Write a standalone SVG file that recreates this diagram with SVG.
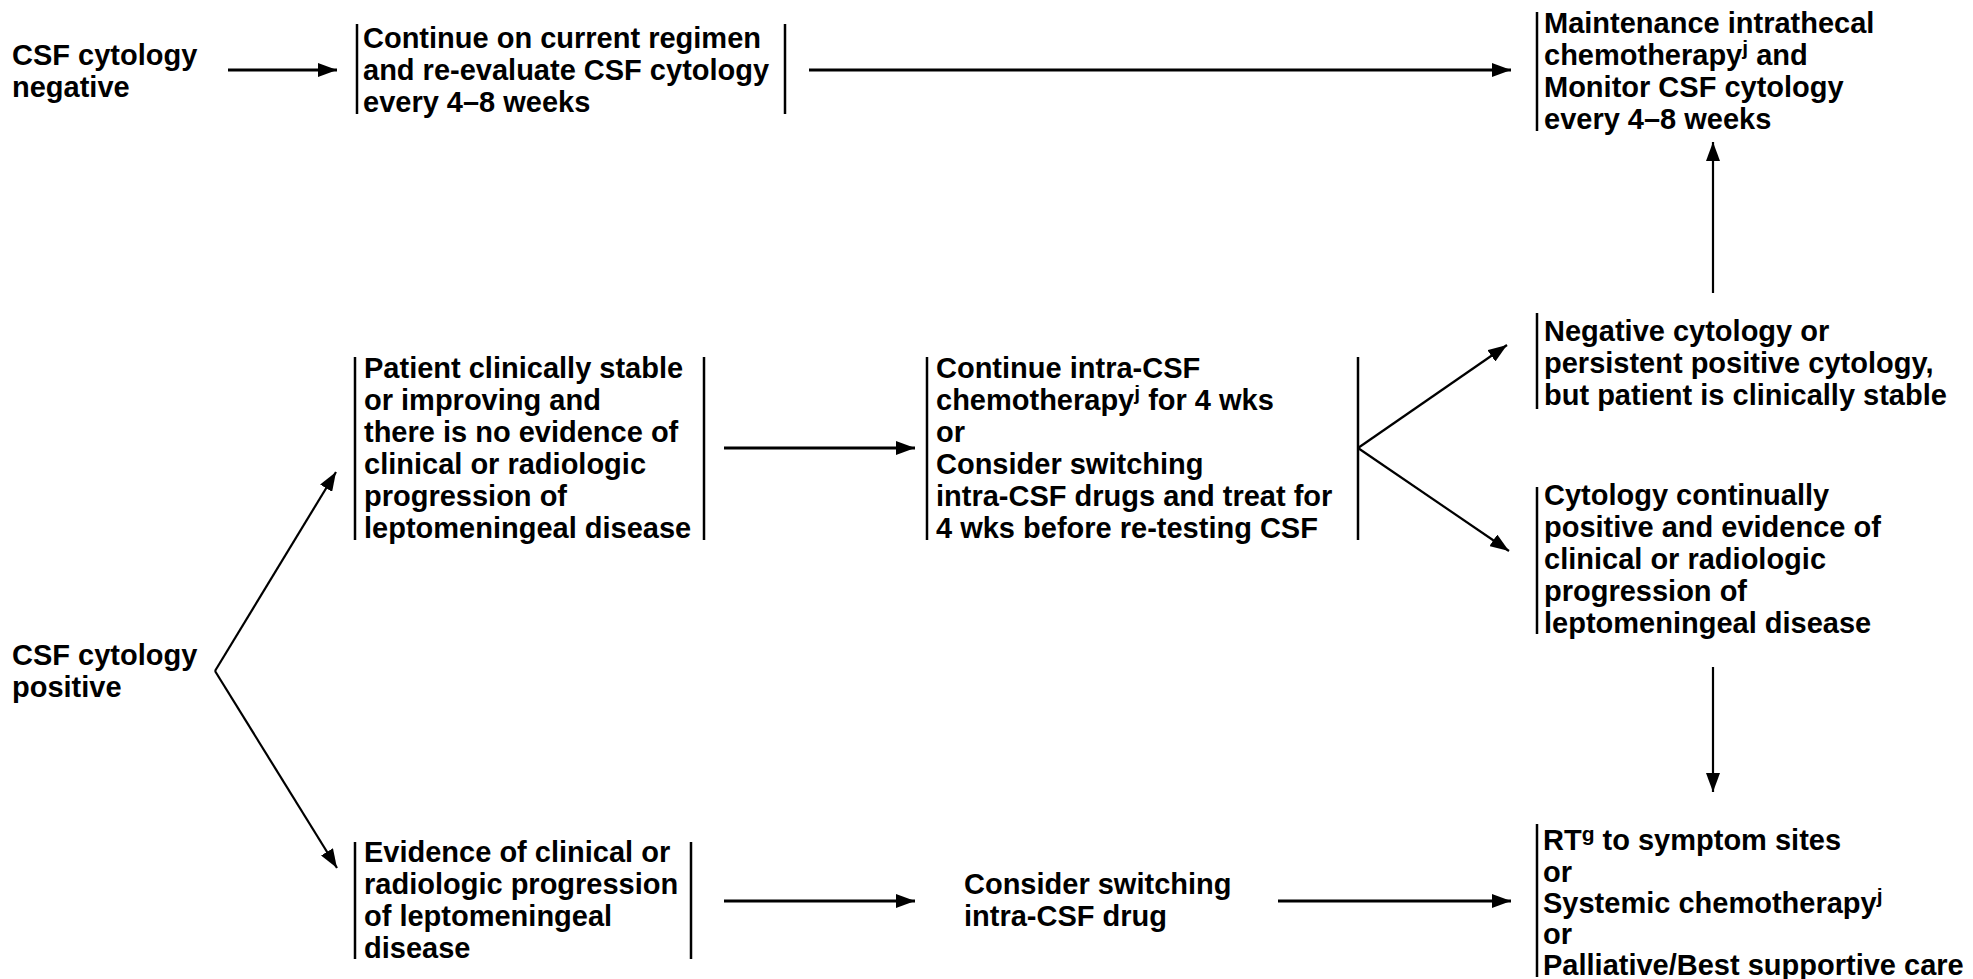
<svg xmlns="http://www.w3.org/2000/svg" width="1973" height="979" viewBox="0 0 1973 979">
  <style>
    text { font-family: "Liberation Sans", Arial, Helvetica, sans-serif; font-weight: bold; font-size: 29px; fill: #000; }
    .sup { font-size: 21px; }
    .bar { stroke: #000; stroke-width: 2.5; fill: none; }
    .conn { stroke: #000; fill: none; }
    .h { stroke-width: 3; }
    .d { stroke-width: 2.2; }
  </style>
  <defs>
    <marker id="ah" markerUnits="userSpaceOnUse" markerWidth="19" markerHeight="14" refX="19" refY="7" orient="auto">
      <path d="M0,0 L19,7 L0,14 z" fill="#000"/>
    </marker>
  </defs>
  <rect width="1973" height="979" fill="#fff"/>

  <g id="connectors">
    <line class="conn h" x1="228" y1="70" x2="337" y2="70" marker-end="url(#ah)"/>
    <line class="conn h" x1="809" y1="70" x2="1511" y2="70" marker-end="url(#ah)"/>
    <line class="conn d" x1="1713" y1="293" x2="1713" y2="142" marker-end="url(#ah)"/>
    <line class="conn h" x1="724" y1="448" x2="915" y2="448" marker-end="url(#ah)"/>
    <line class="conn d" x1="1358" y1="448" x2="1507" y2="345" marker-end="url(#ah)"/>
    <line class="conn d" x1="1358" y1="448" x2="1509" y2="551" marker-end="url(#ah)"/>
    <line class="conn d" x1="1713" y1="667" x2="1713" y2="792" marker-end="url(#ah)"/>
    <line class="conn d" x1="215" y1="671" x2="336" y2="472" marker-end="url(#ah)"/>
    <line class="conn d" x1="215" y1="671" x2="337" y2="868" marker-end="url(#ah)"/>
    <line class="conn h" x1="724" y1="901" x2="915" y2="901" marker-end="url(#ah)"/>
    <line class="conn h" x1="1278" y1="901" x2="1511" y2="901" marker-end="url(#ah)"/>
  </g>

  <g id="csf-negative">
    <text x="12" y="65">CSF cytology</text>
    <text x="12" y="97">negative</text>
  </g>

  <g id="continue-regimen">
    <line class="bar" x1="357" y1="24" x2="357" y2="114"/>
    <line class="bar" x1="785" y1="24" x2="785" y2="114"/>
    <text x="363" y="48">Continue on current regimen</text>
    <text x="363" y="80">and re-evaluate CSF cytology</text>
    <text x="363" y="112">every 4–8 weeks</text>
  </g>

  <g id="maintenance">
    <line class="bar" x1="1537" y1="12" x2="1537" y2="131"/>
    <text x="1544" y="33">Maintenance intrathecal</text>
    <text x="1544" y="65">chemotherapy<tspan class="sup" dy="-10">j</tspan><tspan dy="10"> and</tspan></text>
    <text x="1544" y="97">Monitor CSF cytology</text>
    <text x="1544" y="129">every 4–8 weeks</text>
  </g>

  <g id="stable">
    <line class="bar" x1="355" y1="357" x2="355" y2="540"/>
    <line class="bar" x1="704" y1="357" x2="704" y2="540"/>
    <text x="364" y="378">Patient clinically stable</text>
    <text x="364" y="410">or improving and</text>
    <text x="364" y="442">there is no evidence of</text>
    <text x="364" y="474">clinical or radiologic</text>
    <text x="364" y="506">progression of</text>
    <text x="364" y="538">leptomeningeal disease</text>
  </g>

  <g id="continue-intra-csf">
    <line class="bar" x1="927" y1="357" x2="927" y2="540"/>
    <line class="bar" x1="1358" y1="357" x2="1358" y2="540"/>
    <text x="936" y="378">Continue intra-CSF</text>
    <text x="936" y="410">chemotherapy<tspan class="sup" dy="-10">j</tspan><tspan dy="10"> for 4 wks</tspan></text>
    <text x="936" y="442">or</text>
    <text x="936" y="474">Consider switching</text>
    <text x="936" y="506">intra-CSF drugs and treat for</text>
    <text x="936" y="538">4 wks before re-testing CSF</text>
  </g>

  <g id="negative-cytology">
    <line class="bar" x1="1537" y1="313" x2="1537" y2="409"/>
    <text x="1544" y="341">Negative cytology or</text>
    <text x="1544" y="373">persistent positive cytology,</text>
    <text x="1544" y="405">but patient is clinically stable</text>
  </g>

  <g id="continually-positive">
    <line class="bar" x1="1537" y1="487" x2="1537" y2="634"/>
    <text x="1544" y="505">Cytology continually</text>
    <text x="1544" y="537">positive and evidence of</text>
    <text x="1544" y="569">clinical or radiologic</text>
    <text x="1544" y="601">progression of</text>
    <text x="1544" y="633">leptomeningeal disease</text>
  </g>

  <g id="csf-positive">
    <text x="12" y="665">CSF cytology</text>
    <text x="12" y="697">positive</text>
  </g>

  <g id="progression">
    <line class="bar" x1="355" y1="842" x2="355" y2="959"/>
    <line class="bar" x1="691" y1="842" x2="691" y2="959"/>
    <text x="364" y="862">Evidence of clinical or</text>
    <text x="364" y="894">radiologic progression</text>
    <text x="364" y="926">of leptomeningeal</text>
    <text x="364" y="958">disease</text>
  </g>

  <g id="consider-switching">
    <text x="964" y="894">Consider switching</text>
    <text x="964" y="926">intra-CSF drug</text>
  </g>

  <g id="rt-options">
    <line class="bar" x1="1537" y1="824" x2="1537" y2="977"/>
    <text x="1543" y="850">RT<tspan class="sup" dy="-9">g</tspan><tspan dy="9"> to symptom sites</tspan></text>
    <text x="1543" y="882">or</text>
    <text x="1543" y="913">Systemic chemotherapy<tspan class="sup" dy="-10">j</tspan></text>
    <text x="1543" y="944">or</text>
    <text x="1543" y="975">Palliative/Best supportive care</text>
  </g>
</svg>
